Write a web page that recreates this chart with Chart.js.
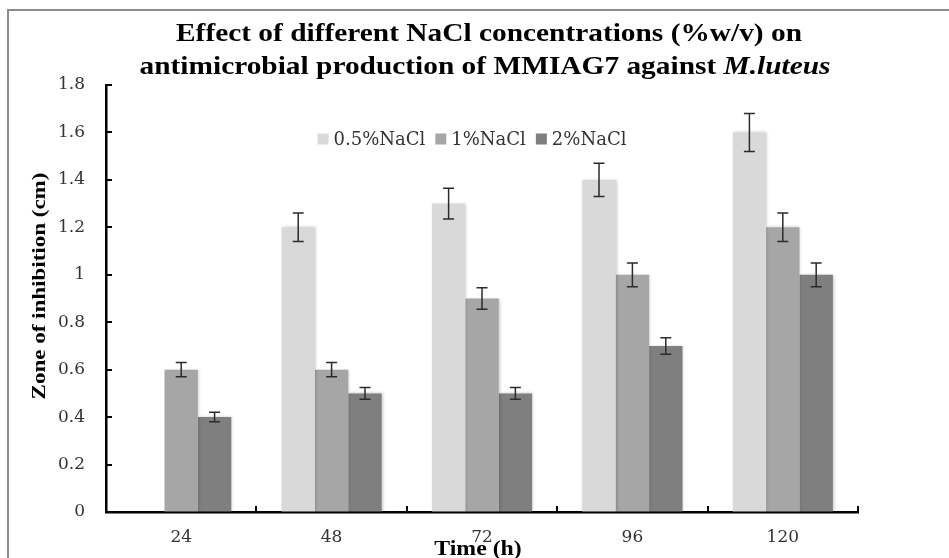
<!DOCTYPE html>
<html>
<head>
<meta charset="utf-8">
<script src="https://cdn.jsdelivr.net/npm/chart.js@4.4.1/dist/chart.umd.min.js"></script>
<style>
  body { margin: 0; background: #fff; }
  .wrap { position: relative; width: 949px; height: 558px; overflow: hidden; }
  .frame { position: absolute; left: 7px; top: 9px; width: 1200px; height: 800px; border: 2px solid #8c8c8c; }
  canvas { position: absolute; left: 0; top: 0; }
</style>
</head>
<body>
<div class="wrap">
  <div class="frame"></div>
  <canvas id="chart" width="949" height="558"></canvas>
</div>
<script>
// Data
const timeLabels = ["24", "48", "72", "96", "120"]
const seriesNames = ["0.5%NaCl", "1%NaCl", "2%NaCl"]
const nacl05 = [null, 1.2, 1.3, 1.4, 1.6]
const nacl1 = [0.6, 0.6, 0.9, 1.0, 1.2]
const nacl2 = [0.4, 0.5, 0.5, 0.7, 1.0]
const err05 = [null, 0.06, 0.065, 0.07, 0.08]
const err1 = [0.03, 0.03, 0.045, 0.05, 0.06]
const err2 = [0.02, 0.025, 0.025, 0.035, 0.05]
const yTickLabels = ["0", "0.2", "0.4", "0.6", "0.8", "1", "1.2", "1.4", "1.6", "1.8"]

const barColors = ["#d9d9d9", "#a6a6a6", "#7f7f7f"]
const TITLE_STRETCH = 1.175

// draw text stretched horizontally like the original picture
function stretchedText(ctx, text, x, y, sx) {
  ctx.save()
  ctx.translate(x, y)
  ctx.scale(sx, 1)
  ctx.fillText(text, 0, 0)
  ctx.restore()
}

// Soft shadow under the bars
const barShadow = {
  id: "barShadow",
  beforeDatasetsDraw(chart) {
    const ctx = chart.ctx
    ctx.save()
    ctx.shadowColor = "rgba(0,0,0,0.22)"
    ctx.shadowBlur = 3
    ctx.shadowOffsetX = 1
    ctx.shadowOffsetY = 0
  },
  afterDatasetsDraw(chart) {
    chart.ctx.restore()
  },
}

// Error bars
const errorBars = {
  id: "errorBars",
  afterDatasetsDraw(chart) {
    const ctx = chart.ctx
    const yScale = chart.scales.y
    ctx.save()
    ctx.strokeStyle = "#2b2b2b"
    ctx.lineWidth = 1.5
    chart.data.datasets.forEach((ds, d) => {
      const meta = chart.getDatasetMeta(d)
      meta.data.forEach((bar, i) => {
        const v = ds.data[i]
        const e = ds.errors[i]
        if (v == null || e == null) return
        const top = yScale.getPixelForValue(v + e)
        const bottom = yScale.getPixelForValue(v - e)
        ctx.beginPath()
        ctx.moveTo(bar.x, top)
        ctx.lineTo(bar.x, bottom)
        ctx.moveTo(bar.x - 5.5, top)
        ctx.lineTo(bar.x + 5.5, top)
        ctx.moveTo(bar.x - 5.5, bottom)
        ctx.lineTo(bar.x + 5.5, bottom)
        ctx.stroke()
      })
    })
    ctx.restore()
  },
}

// Inward tick marks, legend and titles
const decorations = {
  id: "decorations",
  afterDraw(chart) {
    const ctx = chart.ctx
    const area = chart.chartArea
    const xScale = chart.scales.x
    const yScale = chart.scales.y

    ctx.save()
    ctx.strokeStyle = "#000"
    ctx.lineWidth = 2
    yScale.ticks.forEach((t) => {
      const y = Math.round(yScale.getPixelForValue(t.value))
      ctx.beginPath()
      ctx.moveTo(area.left, y)
      ctx.lineTo(area.left + 6, y)
      ctx.stroke()
    })
    const catW = xScale.getPixelForValue(1) - xScale.getPixelForValue(0)
    for (let i = 0; i < timeLabels.length; i++) {
      const x = Math.round(xScale.getPixelForValue(i) + catW / 2)
      ctx.beginPath()
      ctx.moveTo(x, area.bottom)
      ctx.lineTo(x, area.bottom - 6)
      ctx.stroke()
    }
    ctx.restore()

    // Legend
    ctx.save()
    ctx.font = "18px 'DejaVu Serif'"
    ctx.textBaseline = "middle"
    const box = 11
    const widths = seriesNames.map((n) => box + 5 + ctx.measureText(n).width)
    const total = widths.reduce((a, b) => a + b, 0) + 10 * (widths.length - 1)
    let lx = 472 - total / 2
    const ly = 139
    chart.data.datasets.forEach((ds, d) => {
      ctx.fillStyle = ds.backgroundColor
      ctx.fillRect(lx, ly - box / 2, box, box)
      ctx.fillStyle = "#333"
      ctx.fillText(ds.label, lx + box + 5, ly + 1)
      lx += widths[d] + 10
    })
    ctx.restore()

    // Chart title (two lines, species name in italics)
    ctx.save()
    ctx.fillStyle = "#000"
    ctx.textBaseline = "alphabetic"
    ctx.textAlign = "left"
    const bold = "bold 25px 'Liberation Serif'"
    const boldItalic = "italic bold 25px 'Liberation Serif'"
    const line1 = "Effect of different NaCl concentrations (%w/v) on"
    ctx.font = bold
    const w1 = ctx.measureText(line1).width * TITLE_STRETCH
    stretchedText(ctx, line1, 489 - w1 / 2, 41, TITLE_STRETCH)
    const part1 = "antimicrobial production of MMIAG7 against "
    const part2 = "M.luteus"
    const pw1 = ctx.measureText(part1).width * TITLE_STRETCH
    ctx.font = boldItalic
    const pw2 = ctx.measureText(part2).width * TITLE_STRETCH
    const start = 485 - (pw1 + pw2) / 2
    ctx.font = bold
    stretchedText(ctx, part1, start, 74, TITLE_STRETCH)
    ctx.font = boldItalic
    stretchedText(ctx, part2, start + pw1, 74, TITLE_STRETCH)
    ctx.restore()

    // Axis titles
    ctx.save()
    ctx.fillStyle = "#000"
    ctx.font = "bold 22px 'Liberation Serif'"
    ctx.textAlign = "left"
    const xt = "Time (h)"
    const xw = ctx.measureText(xt).width * 1.08
    stretchedText(ctx, xt, 478 - xw / 2, 555, 1.08)

    ctx.font = "bold 23px 'Liberation Serif'"
    ctx.textAlign = "center"
    ctx.textBaseline = "middle"
    ctx.translate(40, 286)
    ctx.rotate(-Math.PI / 2)
    ctx.scale(1, 0.82)
    ctx.fillText("Zone of inhibition (cm)", 0, 0)
    ctx.restore()
  },
}

const ctx = document.getElementById("chart").getContext("2d")

new Chart(ctx, {
  type: "bar",
  data: {
    labels: timeLabels,
    datasets: [
      { label: seriesNames[0], data: nacl05, errors: err05, backgroundColor: barColors[0] },
      { label: seriesNames[1], data: nacl1, errors: err1, backgroundColor: barColors[1] },
      { label: seriesNames[2], data: nacl2, errors: err2, backgroundColor: barColors[2] },
    ],
  },
  options: {
    responsive: false,
    animation: false,
    layout: { padding: { top: 85, right: 91, left: 0, bottom: 0 } },
    datasets: {
      bar: { categoryPercentage: 0.666, barPercentage: 1.0, borderWidth: 0 },
    },
    scales: {
      x: {
        grid: { display: true, drawOnChartArea: false, drawTicks: false },
        border: { display: true, color: "#000", width: 2.5 },
        ticks: {
          color: "#333",
          font: { family: "'DejaVu Serif'", size: 17 },
          padding: 15,
        },
        afterFit(scale) {
          scale.height = 46
        },
      },
      y: {
        min: 0,
        max: 1.8,
        grid: { display: true, drawOnChartArea: false, drawTicks: false },
        border: { display: true, color: "#000", width: 2.5 },
        ticks: {
          stepSize: 0.2,
          color: "#333",
          font: { family: "'DejaVu Serif'", size: 17 },
          padding: 21,
          callback: (value, index) => yTickLabels[index],
        },
        afterFit(scale) {
          scale.width = 106
        },
      },
    },
    plugins: {
      legend: { display: false },
      title: { display: false },
      tooltip: { enabled: false },
    },
  },
  plugins: [barShadow, errorBars, decorations],
})
</script>
</body>
</html>
